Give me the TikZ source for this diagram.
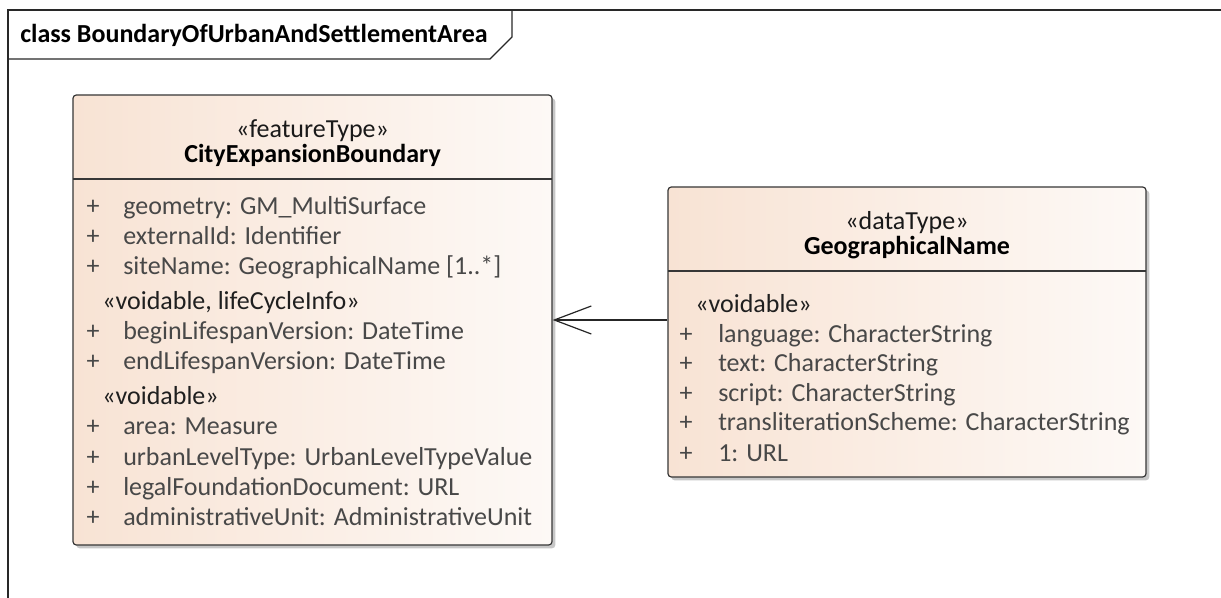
\documentclass[tikz,border=0pt]{standalone}
\usepackage{fontspec}
\setmainfont{Carlito}
\usetikzlibrary{arrows.meta,shadows,fit}
\definecolor{peach}{RGB}{248,227,212}
\definecolor{peachlight}{RGB}{253,249,246}
\definecolor{boxline}{RGB}{55,55,55}
\definecolor{attrcol}{RGB}{72,72,72}
\definecolor{framecol}{RGB}{40,40,40}
\begin{document}
\begin{tikzpicture}[x=0.75pt,y=-0.75pt,font=\fontsize{19.5}{23}\selectfont]
\tikzset{
  classbox/.style={draw=boxline, line width=0.9pt, rounded corners=2.5pt,
    left color=peach, right color=peachlight, inner sep=0pt,
    drop shadow={shadow xshift=2.5pt, shadow yshift=-2.5pt, fill=black, opacity=0.22}},
  sepline/.style={draw=boxline, line width=0.9pt},
  attr/.style={anchor=base west, inner sep=0pt, text=attrcol},
  plus/.style={anchor=base, inner sep=0pt, text=attrcol},
  stereo/.style={anchor=base west, inner sep=0pt, text=black!88},
  head/.style={anchor=base, inner sep=0pt, text=black!90},
  headbold/.style={anchor=base, inner sep=0pt, text=black, font=\fontsize{19.5}{23}\selectfont\bfseries},
  assoc/.style={draw=black!85, line width=0.9pt, -{Straight Barb[length=27.75pt,width=21pt,line width=0.9pt]}},
  framel/.style={draw=framecol, line width=0.9pt}
}
\fill[white] (0,0) rectangle (1221,598);
\useasboundingbox (0,0) rectangle (1221,598);

% frame
\draw[framel] (8,598) -- (8,10) -- (1221,10);
\draw[framel] (8,59) -- (490,59) -- (512,37) -- (512,10);
\node[headbold, anchor=base west] (frametitle) at (20,43) {class BoundaryOfUrbanAndSettlementArea};

% CityExpansionBoundary
\node[classbox, fit={(73,95) (552,545)}] (cb) {};
\draw[sepline] (73,179) -- (552,179);
\node[head] (cbst) at (312.5,138) {«featureType»};
\node[headbold] (cbname) at (312.5,163) {CityExpansionBoundary};

\node[plus] (p1) at (93,215) {+}; \node[attr] (a1) at (123,215) {geometry: GM\_MultiSurface};
\node[plus] (p2) at (93,245) {+}; \node[attr] (a2) at (123,245) {externalId: Identifier};
\node[plus] (p3) at (93,275) {+}; \node[attr] (a3) at (123,275) {siteName: GeographicalName [1..*]};
\node[stereo] (s1) at (102,310) {«voidable, lifeCycleInfo»};
\node[plus] (p4) at (93,340) {+}; \node[attr] (a4) at (123,340) {beginLifespanVersion: DateTime};
\node[plus] (p5) at (93,370) {+}; \node[attr] (a5) at (123,370) {endLifespanVersion: DateTime};
\node[stereo] (s2) at (102,405) {«voidable»};
\node[plus] (p6) at (93,435) {+}; \node[attr] (a6) at (123,435) {area: Measure};
\node[plus] (p7) at (93,465) {+}; \node[attr] (a7) at (123,465) {urbanLevelType: UrbanLevelTypeValue};
\node[plus] (p8) at (93,495) {+}; \node[attr] (a8) at (123,495) {legalFoundationDocument: URL};
\node[plus] (p9) at (93,525) {+}; \node[attr] (a9) at (123,525) {administrativeUnit: AdministrativeUnit};

% GeographicalName
\node[classbox, fit={(668,187) (1146,477)}] (gn) {};
\draw[sepline] (668,271) -- (1146,271);
\node[head] (gnst) at (907,230) {«dataType»};
\node[headbold] (gnname) at (907,255) {GeographicalName};
\node[stereo] (s3) at (695,313) {«voidable»};
\node[plus] (q1) at (686,343) {+}; \node[attr] (b1) at (718,343) {language: CharacterString};
\node[plus] (q2) at (686,372) {+}; \node[attr] (b2) at (718,372) {text: CharacterString};
\node[plus] (q3) at (686,402) {+}; \node[attr] (b3) at (718,402) {script: CharacterString};
\node[plus] (q4) at (686,431) {+}; \node[attr] (b4) at (718,431) {transliterationScheme: CharacterString};
\node[plus] (q5) at (686,461) {+}; \node[attr] (b5) at (718,461) {1: URL};

% association
\coordinate (ay) at (0,320);
\draw[assoc] (ay -| gn.west) -- (ay -| cb.east);
\end{tikzpicture}
\end{document}
